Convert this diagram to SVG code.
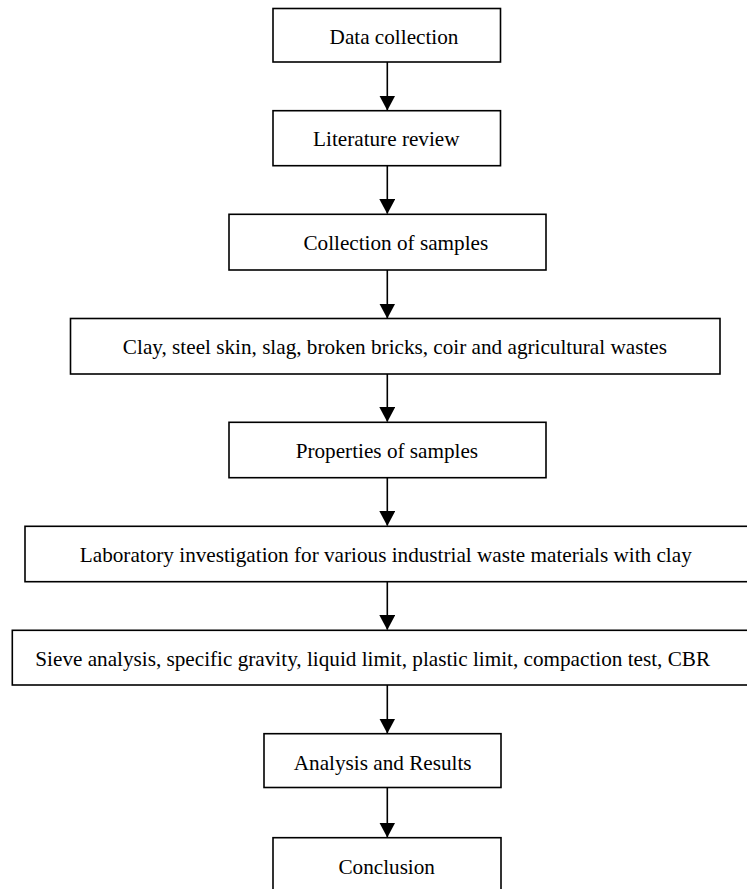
<svg xmlns="http://www.w3.org/2000/svg" width="747" height="889" viewBox="0 0 747 889">
<style>
.box{fill:#fff;stroke:#000;stroke-width:1.6}
.lbl{font-family:"Liberation Serif","Times New Roman",serif;font-size:21.2px;fill:#000;text-anchor:middle}
.con{stroke:#000;stroke-width:1.6;fill:none;marker-end:url(#ah)}
</style>
<defs>
<marker id="ah" viewBox="0 0 15 16" refX="14.5" refY="8" markerWidth="15" markerHeight="16" markerUnits="userSpaceOnUse" orient="auto">
<path d="M0,0 L15,8 L0,16 Z" fill="#000"/>
</marker>
</defs>
<rect width="747" height="889" fill="#fff"/>
<g id="connectors">
<line class="con" x1="387.3" y1="62" x2="387.3" y2="110"/>
<line class="con" x1="387.3" y1="166" x2="387.3" y2="213.5"/>
<line class="con" x1="387.3" y1="270" x2="387.3" y2="318"/>
<line class="con" x1="387.3" y1="374" x2="387.3" y2="421.5"/>
<line class="con" x1="387.3" y1="478" x2="387.3" y2="525.5"/>
<line class="con" x1="387.3" y1="582" x2="387.3" y2="629.5"/>
<line class="con" x1="387.3" y1="685" x2="387.3" y2="733"/>
<line class="con" x1="387.3" y1="788" x2="387.3" y2="837"/>
</g>
<g id="n1"><rect class="box" x="273" y="8.5" width="227.5" height="53.5"/><text class="lbl" x="394" y="44.3">Data collection</text></g>
<g id="n2"><rect class="box" x="273" y="110.7" width="227.5" height="55"/><text class="lbl" x="386.3" y="145.7">Literature review</text></g>
<g id="n3"><rect class="box" x="229" y="214.3" width="317" height="55.7"/><text class="lbl" x="395.8" y="250">Collection of samples</text></g>
<g id="n4"><rect class="box" x="70.5" y="318.5" width="649.5" height="55.5"/><text class="lbl" x="394.9" y="353.5">Clay, steel skin, slag, broken bricks, coir and agricultural wastes</text></g>
<g id="n5"><rect class="box" x="229" y="422.3" width="317" height="55.4"/><text class="lbl" x="386.9" y="457.7">Properties of samples</text></g>
<g id="n6"><rect class="box" x="25" y="526.3" width="730" height="55.4"/><text class="lbl" x="385.8" y="561.7">Laboratory investigation for various industrial waste materials with clay</text></g>
<g id="n7"><rect class="box" x="12.3" y="630.3" width="745" height="54.7"/><text class="lbl" x="372.7" y="665.7">Sieve analysis, specific gravity, liquid limit, plastic limit, compaction test, CBR</text></g>
<g id="n8"><rect class="box" x="264" y="733.7" width="237" height="53.8"/><text class="lbl" x="382.7" y="770">Analysis and Results</text></g>
<g id="n9"><rect class="box" x="273" y="837.7" width="228" height="60"/><text class="lbl" x="386.7" y="874.3">Conclusion</text></g>
</svg>
